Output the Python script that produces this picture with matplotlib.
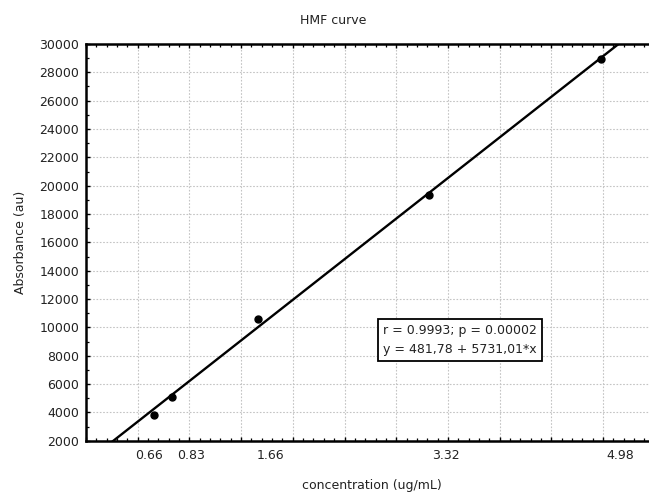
import numpy as np
import matplotlib
matplotlib.use('Agg')
import matplotlib.pyplot as plt
from matplotlib.ticker import MultipleLocator, NullFormatter

plt.rcParams['font.family'] = ['DejaVu Sans']

# measured points
conc = [0.66, 0.83, 1.66, 3.32, 4.98]
absorb = [3835, 5060, 10570, 19340, 28950]

# fitted line from the stats box
intercept = 481.78
slope = 5731.01

# hand placed x labels (they sit a bit off the points in the original)
xlabels = ['0.66', '0.83', '1.66', '3.32', '4.98']
xlabel_pos = [0.614, 1.02, 1.786, 3.48, 5.17]

fig = plt.figure(figsize=(6.49, 4.93), dpi=100)
ax = fig.add_axes([0.1325, 0.106, 0.8763, 0.8048])

xs = np.linspace(0, 5.5, 200)
ax.plot(xs, intercept + slope * xs, color='black', linewidth=1.7, zorder=3)
ax.plot(conc, absorb, 'o', color='black', markersize=5, zorder=4)

ax.set_xlim(0, 5.5)
ax.set_ylim(2000, 30000)
ax.xaxis.set_major_locator(MultipleLocator(0.5))
ax.xaxis.set_minor_locator(MultipleLocator(0.1))
ax.xaxis.set_major_formatter(NullFormatter())
ax.yaxis.set_major_locator(MultipleLocator(2000))
ax.yaxis.set_minor_locator(MultipleLocator(1000))

ax.grid(True, which='major', color='#c4c4c4', linestyle=(0, (1.5, 1.5)), linewidth=0.8)
ax.tick_params(which='major', direction='in', top=True, right=False,
               length=3, width=1.0, labelsize=9, pad=5, labelcolor='#222222')
ax.tick_params(which='minor', direction='in', top=True, right=False,
               length=2.5, width=0.9)

for s in ['left', 'bottom', 'top']:
    ax.spines[s].set_linewidth(1.8)
ax.spines['right'].set_visible(False)

for lab, pos in zip(xlabels, xlabel_pos):
    ax.text(pos, -0.036, lab, transform=ax.get_xaxis_transform(),
            ha='center', va='center', fontsize=9, color='#222222')

ax.text(0.522, 0.255, 'r = 0.9993; p = 0.00002\ny = 481,78 + 5731,01*x',
        transform=ax.transAxes, ha='left', va='center', fontsize=9,
        linespacing=1.6, color='#222222',
        bbox=dict(boxstyle='square,pad=0.4', facecolor='white',
                  edgecolor='black', linewidth=1.3))

fig.text(0.513, 0.959, 'HMF curve', ha='center', va='center', fontsize=9, color='#222222')
fig.text(0.573, 0.016, 'concentration (ug/mL)', ha='center', va='center',
         fontsize=9, color='#222222')
fig.text(0.031, 0.509, 'Absorbance (au)', ha='center', va='center',
         rotation=90, fontsize=9, color='#222222')

plt.savefig('out.png', dpi=100)
